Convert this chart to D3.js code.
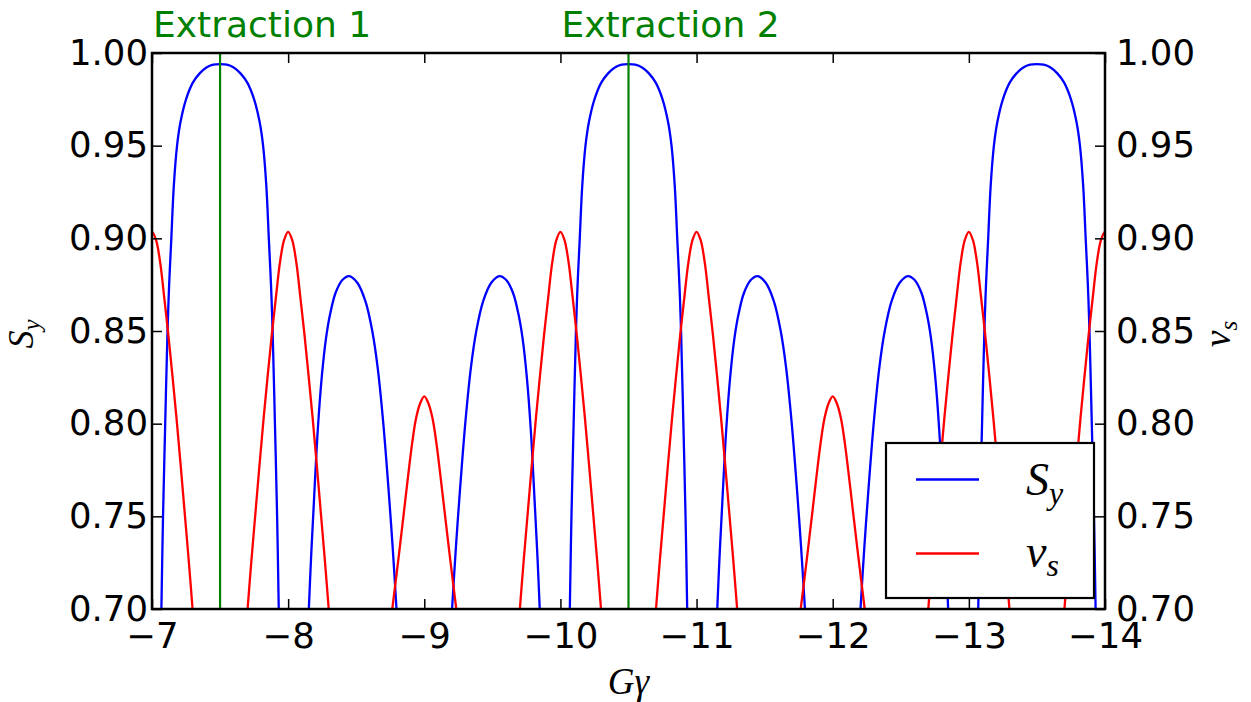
<!DOCTYPE html>
<html>
<head>
<meta charset="utf-8">
<script src="https://cdn.jsdelivr.net/npm/d3@7"></script>
<style>
  html, body { margin: 0; padding: 0; background: #ffffff; }
  svg { display: block; }
</style>
</head>
<body>
<div id="chart"></div>
<script>
// ---------------- data ----------------
// x: Gγ, y: value. Each arch is a separate visible piece (the curve leaves the 0.70–1.00 window between them).
const xTicks = [-7, -8, -9, -10, -11, -12, -13, -14];
const yTicks = [0.70, 0.75, 0.80, 0.85, 0.90, 0.95, 1.00];

// S_y (blue)
const syArch1 = [[-7.069,0.70],[-7.081,0.75],[-7.097,0.80],[-7.114,0.85],[-7.126,0.875],[-7.142,0.90],[-7.160,0.928],[-7.184,0.95],[-7.210,0.963],[-7.250,0.975],[-7.300,0.984],[-7.350,0.989],[-7.400,0.9922],[-7.450,0.9937],[-7.500,0.994],[-7.550,0.9937],[-7.600,0.9922],[-7.650,0.989],[-7.700,0.984],[-7.750,0.975],[-7.790,0.963],[-7.816,0.95],[-7.840,0.928],[-7.858,0.90],[-7.874,0.875],[-7.886,0.85],[-7.903,0.80],[-7.919,0.75],[-7.931,0.70]];
const syArch2 = [[-8.152,0.70],[-8.168,0.727],[-8.188,0.756],[-8.218,0.797],[-8.248,0.826],[-8.278,0.846],[-8.308,0.859],[-8.348,0.8705],[-8.398,0.8775],[-8.448,0.8796],[-8.508,0.876],[-8.568,0.866],[-8.618,0.85],[-8.658,0.83],[-8.698,0.801],[-8.738,0.764],[-8.768,0.733],[-8.796,0.70]];
const syArch3 = [[-9.204,0.70],[-9.232,0.733],[-9.262,0.764],[-9.302,0.801],[-9.342,0.83],[-9.382,0.85],[-9.432,0.866],[-9.492,0.876],[-9.552,0.8796],[-9.602,0.8775],[-9.652,0.8705],[-9.692,0.859],[-9.722,0.846],[-9.752,0.826],[-9.782,0.797],[-9.812,0.756],[-9.832,0.727],[-9.848,0.70]];
const syArch4 = [[-10.069,0.70],[-10.081,0.75],[-10.097,0.80],[-10.114,0.85],[-10.126,0.875],[-10.142,0.90],[-10.160,0.928],[-10.184,0.95],[-10.210,0.963],[-10.250,0.975],[-10.300,0.984],[-10.350,0.989],[-10.400,0.9922],[-10.450,0.9937],[-10.500,0.994],[-10.550,0.9937],[-10.600,0.9922],[-10.650,0.989],[-10.700,0.984],[-10.750,0.975],[-10.790,0.963],[-10.816,0.95],[-10.840,0.928],[-10.858,0.90],[-10.874,0.875],[-10.886,0.85],[-10.903,0.80],[-10.919,0.75],[-10.931,0.70]];
const syArch5 = [[-11.152,0.70],[-11.168,0.727],[-11.188,0.756],[-11.218,0.797],[-11.248,0.826],[-11.278,0.846],[-11.308,0.859],[-11.348,0.8705],[-11.398,0.8775],[-11.448,0.8796],[-11.508,0.876],[-11.568,0.866],[-11.618,0.85],[-11.658,0.83],[-11.698,0.801],[-11.738,0.764],[-11.768,0.733],[-11.796,0.70]];
const syArch6 = [[-12.204,0.70],[-12.232,0.733],[-12.262,0.764],[-12.302,0.801],[-12.342,0.83],[-12.382,0.85],[-12.432,0.866],[-12.492,0.876],[-12.552,0.8796],[-12.602,0.8775],[-12.652,0.8705],[-12.692,0.859],[-12.722,0.846],[-12.752,0.826],[-12.782,0.797],[-12.812,0.756],[-12.832,0.727],[-12.848,0.70]];
const syArch7 = [[-13.069,0.70],[-13.081,0.75],[-13.097,0.80],[-13.114,0.85],[-13.126,0.875],[-13.142,0.90],[-13.160,0.928],[-13.184,0.95],[-13.210,0.963],[-13.250,0.975],[-13.300,0.984],[-13.350,0.989],[-13.400,0.9922],[-13.450,0.9937],[-13.500,0.994],[-13.550,0.9937],[-13.600,0.9922],[-13.650,0.989],[-13.700,0.984],[-13.750,0.975],[-13.790,0.963],[-13.816,0.95],[-13.840,0.928],[-13.858,0.90],[-13.874,0.875],[-13.886,0.85],[-13.903,0.80],[-13.919,0.75],[-13.931,0.70]];

// ν_s (red)
const nuArch0 = [[-6.97,0.899],[-7.00,0.9035],[-7.03,0.899],[-7.06,0.887],[-7.09,0.868],[-7.12,0.848],[-7.15,0.826],[-7.18,0.803],[-7.21,0.778],[-7.24,0.752],[-7.27,0.726],[-7.298,0.70]];
const nuArch1 = [[-7.702,0.70],[-7.73,0.726],[-7.76,0.752],[-7.79,0.778],[-7.82,0.803],[-7.85,0.826],[-7.88,0.848],[-7.91,0.868],[-7.94,0.887],[-7.97,0.899],[-8.00,0.9035],[-8.03,0.899],[-8.06,0.887],[-8.09,0.868],[-8.12,0.848],[-8.15,0.826],[-8.18,0.803],[-8.21,0.778],[-8.24,0.752],[-8.27,0.726],[-8.298,0.70]];
const nuArch2 = [[-8.765,0.70],[-8.81,0.727],[-8.85,0.752],[-8.88,0.771],[-8.91,0.789],[-8.94,0.803],[-8.97,0.811],[-9.00,0.8147],[-9.03,0.811],[-9.06,0.803],[-9.09,0.789],[-9.12,0.771],[-9.15,0.752],[-9.19,0.727],[-9.235,0.70]];
const nuArch3 = [[-9.702,0.70],[-9.73,0.726],[-9.76,0.752],[-9.79,0.778],[-9.82,0.803],[-9.85,0.826],[-9.88,0.848],[-9.91,0.868],[-9.94,0.887],[-9.97,0.899],[-10.00,0.9035],[-10.03,0.899],[-10.06,0.887],[-10.09,0.868],[-10.12,0.848],[-10.15,0.826],[-10.18,0.803],[-10.21,0.778],[-10.24,0.752],[-10.27,0.726],[-10.298,0.70]];
const nuArch4 = [[-10.702,0.70],[-10.73,0.726],[-10.76,0.752],[-10.79,0.778],[-10.82,0.803],[-10.85,0.826],[-10.88,0.848],[-10.91,0.868],[-10.94,0.887],[-10.97,0.899],[-11.00,0.9035],[-11.03,0.899],[-11.06,0.887],[-11.09,0.868],[-11.12,0.848],[-11.15,0.826],[-11.18,0.803],[-11.21,0.778],[-11.24,0.752],[-11.27,0.726],[-11.298,0.70]];
const nuArch5 = [[-11.765,0.70],[-11.81,0.727],[-11.85,0.752],[-11.88,0.771],[-11.91,0.789],[-11.94,0.803],[-11.97,0.811],[-12.00,0.8147],[-12.03,0.811],[-12.06,0.803],[-12.09,0.789],[-12.12,0.771],[-12.15,0.752],[-12.19,0.727],[-12.235,0.70]];
const nuArch6 = [[-12.702,0.70],[-12.73,0.726],[-12.76,0.752],[-12.79,0.778],[-12.82,0.803],[-12.85,0.826],[-12.88,0.848],[-12.91,0.868],[-12.94,0.887],[-12.97,0.899],[-13.00,0.9035],[-13.03,0.899],[-13.06,0.887],[-13.09,0.868],[-13.12,0.848],[-13.15,0.826],[-13.18,0.803],[-13.21,0.778],[-13.24,0.752],[-13.27,0.726],[-13.298,0.70]];
const nuArch7 = [[-13.702,0.70],[-13.73,0.726],[-13.76,0.752],[-13.79,0.778],[-13.82,0.803],[-13.85,0.826],[-13.88,0.848],[-13.91,0.868],[-13.94,0.887],[-13.97,0.899],[-14.00,0.9035],[-14.03,0.899]];

const extractionGamma = [-7.5, -10.5];
const extractionLabels = ["Extraction 1", "Extraction 2"];
const extractionLabelGamma = [-7, -10];

const seriesNames = ["S", "ν"];
const seriesSubs = ["y", "s"];
const seriesColors = ["#0000ff", "#ff0000"];

// ---------------- drawing ----------------
const W = 1251, H = 702;
const L = 152, R = 1105, T = 53, B = 609;
const sansFont = "'DejaVu Sans', sans-serif";
const serifFont = "'Liberation Serif', 'DejaVu Serif', serif";
const fs = 35.5;

const svg = d3.select("#chart").append("svg")
  .attr("width", W).attr("height", H)
  .attr("viewBox", `0 0 ${W} ${H}`);
svg.append("rect").attr("width", W).attr("height", H).attr("fill", "#fff");

const x = d3.scaleLinear().domain([-7, -14]).range([L, R]);
const y = d3.scaleLinear().domain([0.70, 1.00]).range([B, T]);

svg.append("defs").append("clipPath").attr("id", "plotclip")
  .append("rect").attr("x", L).attr("y", T).attr("width", R - L).attr("height", B - T);

const plot = svg.append("g").attr("clip-path", "url(#plotclip)");

const line = d3.line().x(d => x(d[0])).y(d => y(d[1])).curve(d3.curveCatmullRom.alpha(0.5));

const syArches = [syArch1, syArch2, syArch3, syArch4, syArch5, syArch6, syArch7];
const nuArches = [nuArch0, nuArch1, nuArch2, nuArch3, nuArch4, nuArch5, nuArch6, nuArch7];

plot.selectAll("path.sy").data(syArches).enter().append("path")
  .attr("class", "sy").attr("d", line).attr("fill", "none")
  .attr("stroke", seriesColors[0]).attr("stroke-width", 2.3);

plot.selectAll("path.nu").data(nuArches).enter().append("path")
  .attr("class", "nu").attr("d", line).attr("fill", "none")
  .attr("stroke", seriesColors[1]).attr("stroke-width", 2.3);

// extraction lines
plot.selectAll("line.ext").data(extractionGamma).enter().append("line")
  .attr("class", "ext")
  .attr("x1", d => x(d)).attr("x2", d => x(d))
  .attr("y1", T).attr("y2", B)
  .attr("stroke", "#008000").attr("stroke-width", 2.2);

svg.selectAll("text.extlab").data(extractionLabels).enter().append("text")
  .attr("class", "extlab")
  .attr("x", (d, i) => x(extractionLabelGamma[i]) + 1)
  .attr("y", 36.5)
  .attr("fill", "#008000")
  .attr("font-family", sansFont).attr("font-size", 36)
  .text(d => d);

// axes
function styleAxis(g) {
  g.select(".domain").remove();
  g.selectAll(".tick line").attr("stroke", "#000").attr("stroke-width", 1.5);
  g.selectAll(".tick text").attr("font-family", sansFont).attr("font-size", fs).attr("fill", "#000");
}

const gBottom = svg.append("g").attr("transform", `translate(0,${B})`)
  .call(d3.axisBottom(x).tickValues(xTicks).tickSizeInner(-10).tickSizeOuter(0)
    .tickFormat(d3.format("d")));
styleAxis(gBottom);
gBottom.selectAll(".tick text").attr("y", 39.3).attr("dy", null);

const gTop = svg.append("g").attr("transform", `translate(0,${T})`)
  .call(d3.axisTop(x).tickValues(xTicks).tickSizeInner(-10).tickSizeOuter(0).tickFormat(""));
styleAxis(gTop);

const gLeft = svg.append("g").attr("transform", `translate(${L},0)`)
  .call(d3.axisLeft(y).tickValues(yTicks).tickSizeInner(-10).tickSizeOuter(0)
    .tickFormat(d3.format(".2f")));
styleAxis(gLeft);
gLeft.selectAll(".tick text").attr("x", -4).attr("dy", null).attr("y", 11);

const gRight = svg.append("g").attr("transform", `translate(${R},0)`)
  .call(d3.axisRight(y).tickValues(yTicks).tickSizeInner(-10).tickSizeOuter(0)
    .tickFormat(d3.format(".2f")));
styleAxis(gRight);
gRight.selectAll(".tick text").attr("x", 11).attr("dy", null).attr("y", 11);

// frame
svg.append("rect").attr("x", L).attr("y", T).attr("width", R - L).attr("height", B - T)
  .attr("fill", "none").attr("stroke", "#000").attr("stroke-width", 2.5);

// axis labels
const xl = svg.append("text")
  .attr("x", (L + R) / 2).attr("y", 694)
  .attr("text-anchor", "middle")
  .attr("font-family", serifFont).attr("font-style", "italic").attr("font-size", 37);
xl.text("Gγ");

const yl = svg.append("text")
  .attr("transform", "translate(33,334) rotate(-90)")
  .attr("text-anchor", "middle")
  .attr("font-family", serifFont).attr("font-style", "italic").attr("font-size", 36);
yl.append("tspan").text(seriesNames[0]);
yl.append("tspan").attr("dy", 7).attr("font-size", 25).text(seriesSubs[0]);

const yr = svg.append("text")
  .attr("transform", "translate(1230,334) rotate(-90)")
  .attr("text-anchor", "middle")
  .attr("font-family", serifFont).attr("font-style", "italic").attr("font-size", 38);
yr.append("tspan").text(seriesNames[1]);
yr.append("tspan").attr("dy", 7).attr("font-size", 25).text(seriesSubs[1]);

// legend
const lg = svg.append("g");
lg.append("rect").attr("x", 886).attr("y", 443).attr("width", 208).attr("height", 155)
  .attr("fill", "#fff").attr("stroke", "#000").attr("stroke-width", 2.2);
const legendY = [479.5, 553.5];
const legendBase = [495, 567];
seriesNames.forEach((name, i) => {
  lg.append("line").attr("x1", 916).attr("x2", 979)
    .attr("y1", legendY[i]).attr("y2", legendY[i])
    .attr("stroke", seriesColors[i]).attr("stroke-width", 2.3);
  const t = lg.append("text").attr("x", 1026).attr("y", legendBase[i])
    .attr("font-family", serifFont).attr("font-style", "italic").attr("font-size", 46);
  t.append("tspan").text(name);
  t.append("tspan").attr("dy", 9).attr("font-size", 32).text(seriesSubs[i]);
});
</script>
</body>
</html>
